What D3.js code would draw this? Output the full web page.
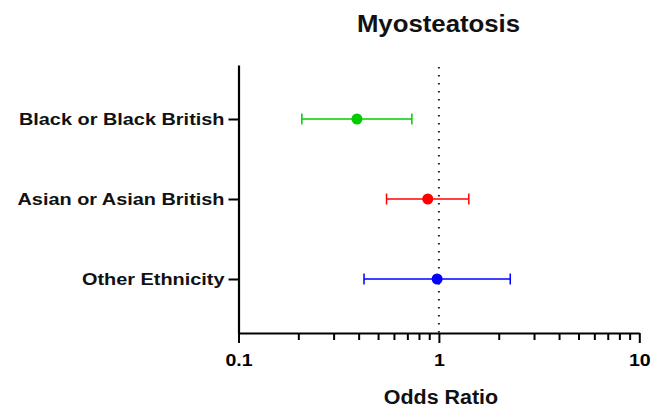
<!DOCTYPE html>
<html>
<head>
<meta charset="utf-8">
<script src="https://cdn.jsdelivr.net/npm/d3@7"></script>
<style>
  html, body { margin: 0; padding: 0; background: #fff; }
  svg { display: block; font-family: "Liberation Sans", Arial, sans-serif; }
</style>
</head>
<body>
<svg id="chart" width="651" height="407"></svg>
<script>
// Forest plot: odds ratios with 95% CIs by ethnic group
const groups = ["Black or Black British", "Asian or Asian British", "Other Ethnicity"];
const oddsRatio = [0.39, 0.88, 0.98];
const ciLower = [0.207, 0.548, 0.423];
const ciUpper = [0.733, 1.41, 2.27];
const colors = ["#00cc00", "#ff0000", "#0000ff"];
const xTickLabels = ["0.1", "1", "10"];

const svg = d3.select("#chart");
const plotLeft = 238.5, plotRight = 639.3, plotTop = 65, plotBottom = 333;

const x = d3.scaleLog().domain([0.1, 10]).range([plotLeft, plotRight]);
const y = d3.scalePoint().domain(groups).range([plotTop, plotBottom]).padding(0.675);

// Widen glyphs horizontally (the typeface used is a little wide-set)
function widen(sel, f) {
  sel.each(function () {
    const w = this.getComputedTextLength();
    this.setAttribute("textLength", w * f);
    this.setAttribute("lengthAdjust", "spacingAndGlyphs");
  });
}

// Title
svg.append("text")
  .attr("x", 438.5).attr("y", 32)
  .attr("text-anchor", "middle")
  .attr("font-weight", "bold").attr("font-size", 23).attr("fill", "#111")
  .text("Myosteatosis")
  .call(widen, 1.12);

// Reference line at OR = 1
svg.append("line")
  .attr("x1", x(1)).attr("x2", x(1))
  .attr("y1", plotTop + 2).attr("y2", plotBottom)
  .attr("stroke", "#222").attr("stroke-width", 2)
  .attr("stroke-dasharray", "1.6,6.4");

// Minor ticks on the log axis
const minorVals = [];
for (let d = 0.1; d < 10; d *= 10) {
  for (let k = 2; k <= 9; k++) minorVals.push(+(d * k).toFixed(3));
}
svg.append("g").selectAll("line").data(minorVals).join("line")
  .attr("x1", d => x(d)).attr("x2", d => x(d))
  .attr("y1", plotBottom).attr("y2", plotBottom + 7)
  .attr("stroke", "#000").attr("stroke-width", 2);

// X axis with major ticks
const xAxis = svg.append("g")
  .attr("transform", `translate(0,${plotBottom})`)
  .call(d3.axisBottom(x).tickValues([0.1, 1, 10])
    .tickFormat((d, i) => xTickLabels[i]).tickSize(10).tickSizeOuter(0).tickPadding(11));
xAxis.select(".domain").attr("stroke", "#000").attr("stroke-width", 2.2);
xAxis.selectAll(".tick line").attr("stroke", "#000").attr("stroke-width", 2);
xAxis.selectAll(".tick text")
  .attr("font-family", "Liberation Sans, Arial, sans-serif")
  .attr("font-size", 17).attr("font-weight", "bold").attr("fill", "#000")
  .call(widen, 1.15);

// Y axis with category labels
const yAxis = svg.append("g")
  .attr("transform", `translate(${plotLeft},0)`)
  .call(d3.axisLeft(y).tickSize(10).tickSizeOuter(0).tickPadding(4));
yAxis.select(".domain").attr("stroke", "#000").attr("stroke-width", 2.2);
yAxis.selectAll(".tick line").attr("stroke", "#000").attr("stroke-width", 2);
yAxis.selectAll(".tick text")
  .attr("font-family", "Liberation Sans, Arial, sans-serif")
  .attr("font-size", 17).attr("font-weight", "bold").attr("fill", "#111")
  .call(widen, 1.17);

// X axis title
svg.append("text")
  .attr("x", 441).attr("y", 404)
  .attr("text-anchor", "middle")
  .attr("font-weight", "bold").attr("font-size", 19.5).attr("fill", "#111")
  .text("Odds Ratio")
  .call(widen, 1.1);

// Confidence intervals and point estimates
const rows = groups.map((g, i) => ({ g, or: oddsRatio[i], lo: ciLower[i], hi: ciUpper[i], c: colors[i] }));
const marks = svg.append("g").selectAll("g").data(rows).join("g");
marks.append("line")
  .attr("x1", d => x(d.lo)).attr("x2", d => x(d.hi))
  .attr("y1", d => y(d.g)).attr("y2", d => y(d.g))
  .attr("stroke", d => d.c).attr("stroke-width", 1.5);
marks.append("line")
  .attr("x1", d => x(d.lo)).attr("x2", d => x(d.lo))
  .attr("y1", d => y(d.g) - 5.5).attr("y2", d => y(d.g) + 5.5)
  .attr("stroke", d => d.c).attr("stroke-width", 1.5);
marks.append("line")
  .attr("x1", d => x(d.hi)).attr("x2", d => x(d.hi))
  .attr("y1", d => y(d.g) - 5.5).attr("y2", d => y(d.g) + 5.5)
  .attr("stroke", d => d.c).attr("stroke-width", 1.5);
marks.append("circle")
  .attr("cx", d => x(d.or)).attr("cy", d => y(d.g))
  .attr("r", 5.5).attr("fill", d => d.c);
</script>
</body>
</html>
